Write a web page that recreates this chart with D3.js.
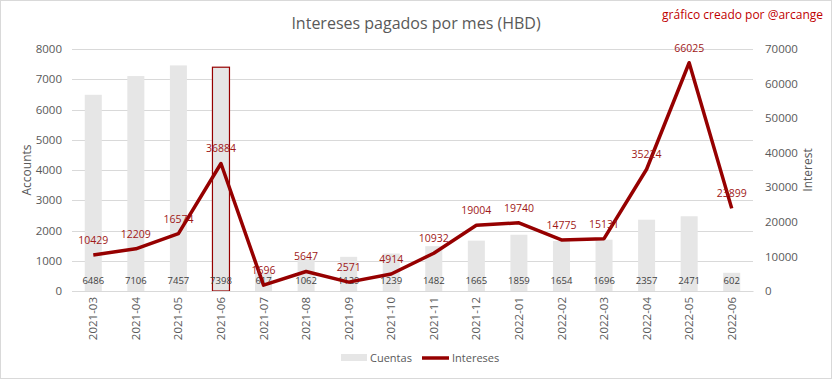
<!DOCTYPE html>
<html><head><meta charset="utf-8">
<script src="https://cdn.jsdelivr.net/npm/d3@7"></script>
<style>
html,body{margin:0;padding:0;background:#fff;}
svg text{font-family:"Open Sans","Noto Sans",sans-serif;}
</style></head>
<body>
<svg id="chart" width="832" height="379"></svg>
<script>
const months = ["2021-03","2021-04","2021-05","2021-06","2021-07","2021-08","2021-09","2021-10","2021-11","2021-12","2022-01","2022-02","2022-03","2022-04","2022-05","2022-06"];
const cuentas = [6486,7106,7457,7398,617,1062,1129,1239,1482,1665,1859,1654,1696,2357,2471,602];
const intereses = [10429,12209,16574,36884,1696,5647,2571,4914,10932,19004,19740,14775,15131,35224,66025,23899];
const leftTicks = [0,1000,2000,3000,4000,5000,6000,7000,8000];
const rightTicks = [0,10000,20000,30000,40000,50000,60000,70000];
const highlighted = "2021-06";

const svg = d3.select("#chart");
const W = 832, H = 379;
const lineColor = "#960000", barColor = "#e6e6e6", textGray = "#595959";

svg.append("rect").attr("x",0.5).attr("y",0.5).attr("width",W-1).attr("height",H-1)
  .attr("fill","#fff").attr("stroke","#d9d9d9");

const m = {l:72, r:753, t:49, b:291};
const x = d3.scaleBand().domain(months).range([m.l, m.r]).paddingInner(0.6).paddingOuter(0.3);
const yL = d3.scaleLinear().domain([0,8000]).range([m.b, m.t]);
const yR = d3.scaleLinear().domain([0,70000]).range([m.b, m.t]);

// gridlines
svg.append("g").selectAll("line").data(leftTicks).join("line")
  .attr("x1",m.l).attr("x2",m.r)
  .attr("y1",d=>Math.round(yL(d))+0.5).attr("y2",d=>Math.round(yL(d))+0.5)
  .attr("stroke","#d9d9d9").attr("stroke-width",1);

// left axis
const axL = d3.axisLeft(yL).tickValues(leftTicks).tickSize(0).tickPadding(10).tickFormat(d3.format("d"));
const gL = svg.append("g").attr("transform",`translate(${m.l},0)`).call(axL);
gL.select(".domain").remove();
gL.selectAll("text").attr("fill",textGray).style("font-size","11.5px");

// right axis
const axR = d3.axisRight(yR).tickValues(rightTicks).tickSize(0).tickPadding(12).tickFormat(d3.format("d"));
const gR = svg.append("g").attr("transform",`translate(${m.r},0)`).call(axR);
gR.select(".domain").remove();
gR.selectAll("text").attr("fill",textGray).style("font-size","11.5px");

// bars
svg.append("g").selectAll("rect").data(months).join("rect")
  .attr("x",d=>x(d)).attr("width",x.bandwidth())
  .attr("y",(d,i)=>yL(cuentas[i])).attr("height",(d,i)=>m.b - yL(cuentas[i]))
  .attr("fill",barColor)
  .attr("stroke",d=>d===highlighted?lineColor:"none").attr("stroke-width",1.2);

// bar labels
svg.append("g").selectAll("text").data(months).join("text")
  .attr("x",d=>x(d)+x.bandwidth()/2).attr("y",284)
  .attr("text-anchor","middle").attr("fill","#404040").style("font-size","9.5px")
  .text((d,i)=>cuentas[i]);

// x axis labels
const axB = d3.axisBottom(x).tickSize(0).tickPadding(0);
const gB = svg.append("g").attr("transform",`translate(0,${m.b})`).call(axB);
gB.select(".domain").attr("stroke","#d9d9d9");
gB.selectAll("text").attr("fill",textGray).style("font-size","11.5px")
  .attr("transform","rotate(-90)").attr("text-anchor","end")
  .attr("x",-6).attr("y",0).attr("dy","0.35em");

// line
const line = d3.line().x((d,i)=>x(months[i])+x.bandwidth()/2).y(d=>yR(d));
svg.append("path").datum(intereses).attr("d",line)
  .attr("fill","none").attr("stroke",lineColor).attr("stroke-width",3.5).attr("stroke-linejoin","round");

// line labels
svg.append("g").selectAll("text").data(intereses).join("text")
  .attr("x",(d,i)=>x(months[i])+x.bandwidth()/2).attr("y",d=>yR(d)-11)
  .attr("text-anchor","middle").attr("fill","#a01818").style("font-size","10.5px")
  .text(d=>d);

// axis titles
svg.append("text").attr("transform",`translate(31,170) rotate(-90)`)
  .attr("text-anchor","middle").attr("fill",textGray).style("font-size","12px").text("Accounts");
svg.append("text").attr("transform",`translate(812,170) rotate(-90)`)
  .attr("text-anchor","middle").attr("fill",textGray).style("font-size","12px").text("Interest");

// title
svg.append("text").attr("x",416).attr("y",29).attr("text-anchor","middle")
  .attr("fill",textGray).style("font-size","16px").text("Intereses pagados por mes (HBD)");
svg.append("text").attr("x",823).attr("y",19).attr("text-anchor","end")
  .attr("fill","#c00000").style("font-size","12px").text("gráfico creado por @arcange");

// legend
const lg = svg.append("g");
lg.append("rect").attr("x",341).attr("y",354).attr("width",26).attr("height",7).attr("fill",barColor);
lg.append("text").attr("x",370).attr("y",362).attr("fill",textGray).style("font-size","11px").text("Cuentas");
lg.append("line").attr("x1",422).attr("x2",449).attr("y1",358).attr("y2",358)
  .attr("stroke",lineColor).attr("stroke-width",3.5);
lg.append("text").attr("x",452).attr("y",362).attr("fill",textGray).style("font-size","11px").text("Intereses");
</script>
</body></html>
